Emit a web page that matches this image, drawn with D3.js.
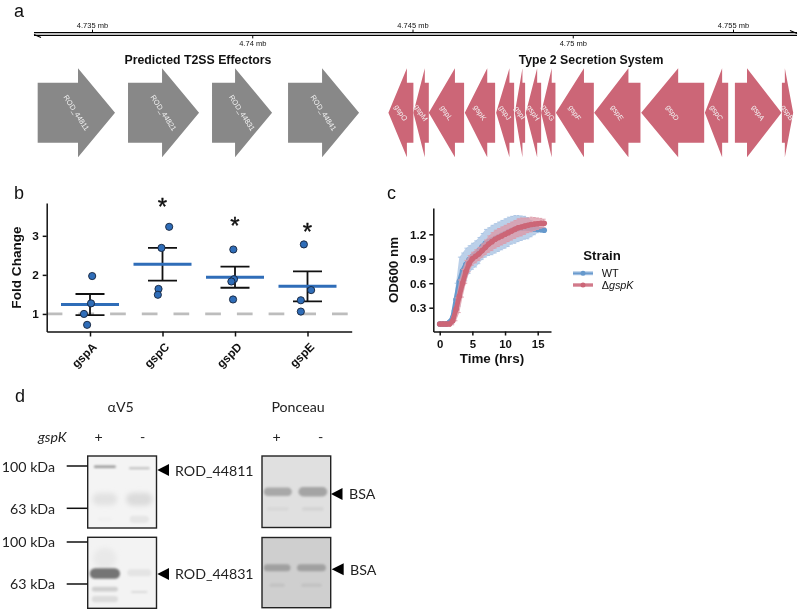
<!DOCTYPE html>
<html><head><meta charset="utf-8">
<script src="https://cdn.jsdelivr.net/npm/d3@7/dist/d3.min.js"></script>
<style>
html,body{margin:0;padding:0;background:#fff}
svg{display:block;filter:blur(0.35px)}
text{font-family:"Liberation Sans",Arial,sans-serif;fill:#111}
.lato text,text.lato{font-family:Lato,"Open Sans",sans-serif;fill:#222}
</style></head><body><svg id="c" width="800" height="611"></svg>
<script>
// ---- panel a data (kb)
const effectorNames=["ROD_44811","ROD_44821","ROD_44831","ROD_44841"];
const effectorStart=[4733.305,4736.124,4738.745,4741.117];
const effectorEnd=[4735.718,4738.340,4740.618,4743.333];
const t2ssNames=["gspO","gspM","gspL","gspK","gspJ","gspI","gspH","gspG","gspF","gspE","gspD","gspC","gspA","gspB"];
const t2ssStart=[4745.028,4745.509,4746.610,4747.578,4748.171,4748.514,4749.014,4749.460,4750.658,4752.113,4754.101,4754.850,4755.059,4756.526];
const t2ssEnd=[4744.248,4745.028,4745.509,4746.632,4747.609,4748.193,4748.536,4749.014,4749.473,4750.668,4752.135,4754.122,4756.513,4756.878];
const topTicks=[4.735,4.745,4.755];
const bottomTicks=[4.74,4.75];
// ---- panel b data
const foldCats=["gspA","gspC","gspD","gspE"];
const foldMeans=[1.24,2.27,1.94,1.71];
const foldUpper=[1.51,2.69,2.21,2.09];
const foldLower=[0.97,1.85,1.67,1.32];
const foldPoints=[[1.97,1.27,1.0,0.72],[3.23,2.69,1.64,1.49],[2.65,1.89,1.83,1.37],[2.78,1.61,1.35,1.06]];
const foldJitter=[[.03,.014,-.083,-.04],[.092,-.014,-.055,-.064],[-.023,-.014,-.05,-.027],[-.05,.05,-.092,-.092]];
const foldStars=[null,3.87,3.38,3.25];
// ---- panel c data
const hours=[0,.5,1,1.5,2,2.5,3,3.5,4,4.5,5,5.5,6,6.5,7,7.5,8,8.5,9,9.5,10,10.5,11,11.5,12,12.5,13,13.5,14,14.5,15,15.5,16];
const wtMean=[.10,.10,.10,.12,.18,.40,.62,.75,.83,.89,.93,.96,1.00,1.05,1.09,1.11,1.13,1.15,1.17,1.19,1.21,1.23,1.25,1.26,1.27,1.275,1.28,1.275,1.27,1.265,1.26,1.255,1.25];
const wtSd=[.01,.01,.015,.03,.08,.2,.3,.22,.2,.17,.16,.16,.16,.16,.17,.17,.18,.18,.18,.18,.18,.18,.17,.17,.16,.15,.14,.13,.1,.07,.04,.02,.01];
const koMean=[.10,.10,.10,.10,.14,.28,.44,.60,.74,.84,.90,.93,.96,1.00,1.04,1.08,1.11,1.14,1.16,1.18,1.20,1.22,1.24,1.26,1.28,1.29,1.30,1.31,1.32,1.325,1.33,1.335,1.335];
const koSd=[.005,.005,.01,.02,.05,.14,.2,.17,.14,.1,.08,.08,.08,.08,.09,.1,.11,.11,.11,.11,.11,.11,.11,.11,.11,.11,.1,.09,.09,.08,.07,.06,.05];
// ---- panel d data: lane, vertical fraction, width fraction, height fraction, grey
const blotA=[[0,.15,.32,.035,"#999999"],[1,.17,.3,.025,"#bcbcbc"],[0,.6,.36,.17,"#e2e2e2"],[1,.6,.38,.18,"#dbdbdb"],[1,.88,.28,.1,"#e6e6e6"],[0,.88,.2,.05,"#f0f0f0"]];
const blotB=[[0,.3,.34,.3,"#e9e9e9"],[0,.51,.44,.15,"#747474"],[0,.73,.38,.07,"#cfcfcf"],[0,.87,.38,.09,"#dcdcdc"],[1,.5,.35,.1,"#e4e4e4"],[1,.77,.24,.03,"#dadada"]];
const ponA=[[0,.5,.41,.12,"#a8a8a8"],[1,.5,.42,.13,"#a4a4a4"],[0,.74,.32,.05,"#d8d8d8"],[1,.74,.32,.05,"#d4d4d4"]];
const ponB=[[0,.43,.39,.1,"#a0a0a0"],[1,.43,.42,.1,"#a0a0a0"],[0,.68,.22,.05,"#c2c2c2"],[1,.68,.3,.05,"#c2c2c2"]];

const svg=d3.select("#c");
const defs=svg.append("defs");
[["bl",1],["bl2",2.4]].forEach(f=>defs.append("filter").attr("id",f[0]).attr("x","-40%").attr("y","-100%").attr("width","180%").attr("height","300%")
  .append("feGaussianBlur").attr("stdDeviation",f[1]));
const T=(x,y,s,o={})=>svg.append("text").attr("x",x).attr("y",y).text(s)
  .attr("font-size",o.size||11).attr("font-weight",o.bold?"bold":null).attr("font-style",o.italic?"italic":null)
  .attr("text-anchor",o.anchor||"start").attr("class",o.cls||null);

// panel letters
[["a",14,17],["b",14,199],["c",387,199],["d",15,402]].forEach(d=>T(d[1],d[2],d[0],{size:18}));

// ---------- panel a
const gx=d3.scaleLinear().domain([4.735,4.755]).range([92,733]);
const axisY=34;
svg.append("line").attr("x1",34).attr("x2",797).attr("y1",axisY-1.4).attr("y2",axisY-1.4).attr("stroke","#000").attr("stroke-width",1.1);
svg.append("line").attr("x1",34).attr("x2",797).attr("y1",axisY+1.4).attr("y2",axisY+1.4).attr("stroke","#000").attr("stroke-width",1.1);
svg.append("path").attr("d","M34,34.6L41,37.6 M797,33.4L790,30.4").attr("stroke","#000").attr("stroke-width",1.1).attr("fill","none");
const ga=svg.append("g").attr("transform",`translate(0,${axisY-1.4})`).call(d3.axisTop(gx).tickValues(topTicks).tickSize(3).tickSizeOuter(0).tickPadding(2).tickFormat(d=>d+" mb"));
const gb=svg.append("g").attr("transform",`translate(0,${axisY+1.4})`).call(d3.axisBottom(gx).tickValues(bottomTicks).tickSize(3).tickSizeOuter(0).tickPadding(2).tickFormat(d=>d+" mb"));
[ga,gb].forEach(g=>{g.select(".domain").remove();g.selectAll("text").attr("font-size",7.5).attr("font-family","Liberation Sans").attr("fill","#111");g.selectAll("line").attr("stroke","#000")});
T(198,64,"Predicted T2SS Effectors",{size:12.3,bold:true,anchor:"middle"});
T(591,64,"Type 2 Secretion System",{size:12.3,bold:true,anchor:"middle"});
const geneMid=112.7;
function arrow(s,e){const a=gx(s/1000),b=gx(e/1000),dir=b>a?1:-1,len=Math.abs(b-a),h=Math.min(len*.74,37),n=b-dir*h;
  return `M${a},${geneMid-30}L${n},${geneMid-30}L${n},${geneMid-44.5}L${b},${geneMid}L${n},${geneMid+44.5}L${n},${geneMid+30}L${a},${geneMid+30}Z`;}
function genes(names,st,en,col){
  const g=svg.append("g");
  g.selectAll("path").data(names).join("path").attr("d",(d,i)=>arrow(st[i],en[i])).attr("fill",col);
  g.selectAll("text").data(names).join("text").text(d=>d)
    .attr("transform",(d,i)=>`translate(${gx((st[i]+en[i])/2000)},${geneMid}) rotate(57)`)
    .attr("text-anchor","middle").attr("dy","0.35em").attr("font-size",7.4).style("fill","#f2f2f2");
}
genes(effectorNames,effectorStart,effectorEnd,"#888888");
genes(t2ssNames,t2ssStart,t2ssEnd,"#CC6677");

// ---------- panel b
const bx=d3.scalePoint().domain(foldCats).range([90,307.5]);
const by=d3.scaleLinear().domain([0.55,3.84]).range([331.5,203]);
const step=bx.step();
function styleAxis(g){g.selectAll("path,line").attr("stroke","#111").attr("stroke-width",1.5);
  g.selectAll("text").attr("font-family","Liberation Sans").attr("font-weight","bold").attr("font-size",11.8).attr("fill","#111");}
svg.append("line").attr("x1",46.7).attr("x2",348).attr("y1",by(1)).attr("y2",by(1)).attr("stroke","#bdbdbd").attr("stroke-width",2.8).attr("stroke-dasharray","15.7 16");
const bxAxis=d3.scaleLinear().domain([0,1]).range([46.7,351.7]);
svg.append("g").attr("transform","translate(0,331.5)").call(d3.axisBottom(bxAxis).tickValues([]).tickSizeOuter(0)).call(styleAxis);
svg.append("g").attr("transform","translate(0,331.5)").call(d3.axisBottom(bx).tickSize(5).tickSizeOuter(0)).call(styleAxis)
  .call(g=>{g.select(".domain").remove();g.selectAll("text").attr("text-anchor","end").attr("transform","translate(-1,8) rotate(-45)").attr("dx",0).attr("dy",".55em").attr("y",5)});
svg.append("g").attr("transform","translate(46.7,0)").call(d3.axisLeft(by).tickValues([1,2,3]).tickSize(4).tickPadding(4).tickSizeOuter(0).tickFormat(d3.format("d"))).call(styleAxis);
T(0,0,"Fold Change",{size:13.6,bold:true,anchor:"middle"}).attr("transform","translate(20.5,267.5) rotate(-90)");
const pg=svg.append("g");
foldCats.forEach((c,i)=>{
  const x=bx(c);
  pg.append("path").attr("d",`M${x},${by(foldUpper[i])}V${by(foldLower[i])}M${x-14.5},${by(foldUpper[i])}h29M${x-14.5},${by(foldLower[i])}h29`).attr("stroke","#111").attr("stroke-width",1.8).attr("fill","none");
  pg.append("line").attr("x1",x-29).attr("x2",x+29).attr("y1",by(foldMeans[i])).attr("y2",by(foldMeans[i])).attr("stroke","#2f6db8").attr("stroke-width",3);
  pg.selectAll(null).data(foldPoints[i]).join("circle").attr("cx",(d,j)=>x+foldJitter[i][j]*step).attr("cy",d=>by(d)).attr("r",3.6)
    .attr("fill","#2f6db8").attr("stroke","#15233a").attr("stroke-width",.9);
  if(foldStars[i]) T(x,by(foldStars[i])+13.5,"*",{size:24,anchor:"middle"}).attr("stroke","#111").attr("stroke-width",.4);
});

// ---------- panel c
const cx=d3.scaleLinear().domain([0,15]).range([439.7,537.7]);
const cy=d3.scaleLinear().domain([.3,1.2]).range([307.7,234.3]);
const c0=433.3,cBottom=331.5;
svg.append("g").attr("transform",`translate(0,${cBottom})`).call(d3.axisBottom(d3.scaleLinear().domain([0,1]).range([c0,551])).tickValues([]).tickSizeOuter(0)).call(styleAxis);
svg.append("g").attr("transform",`translate(0,${cBottom})`).call(d3.axisBottom(cx).tickValues([0,5,10,15]).tickSize(4).tickPadding(4).tickSizeOuter(0)).call(styleAxis).call(g=>g.select(".domain").remove()).call(g=>g.selectAll("text").attr("font-size",11.4));
svg.append("g").attr("transform",`translate(${c0},0)`).call(d3.axisLeft(d3.scaleLinear().domain([cy.invert(cBottom),cy.invert(208)]).range([cBottom,208])).tickValues([.3,.6,.9,1.2]).tickSize(4).tickSizeOuter(0).tickFormat(d3.format(".1f"))).call(styleAxis);
T(492,363,"Time (hrs)",{size:13.4,bold:true,anchor:"middle"});
T(0,0,"OD600 nm",{size:13.4,bold:true,anchor:"middle"}).attr("transform","translate(398,270) rotate(-90)");
function growth(mean,sd,col,band){
  const g=svg.append("g");
  g.append("path").attr("d",d3.area().x((d,i)=>cx(hours[i])).y0((d,i)=>cy(mean[i]-sd[i])).y1((d,i)=>cy(mean[i]+sd[i]))(mean)).attr("fill",band).attr("fill-opacity",.78);
  g.selectAll("path.e").data(mean).join("path").attr("class","e")
    .attr("d",(d,i)=>`M${cx(hours[i])-1.4},${cy(d+sd[i])}h2.8M${cx(hours[i])-1.4},${cy(d-sd[i])}h2.8`).attr("stroke",band).attr("stroke-width",.9).attr("fill","none");
  g.append("path").attr("d",d3.line().x((d,i)=>cx(hours[i])).y(d=>cy(d))(mean)).attr("fill","none").attr("stroke",col).attr("stroke-width",4.8);
  g.selectAll("circle").data(mean).join("circle").attr("cx",(d,i)=>cx(hours[i])).attr("cy",d=>cy(d)).attr("r",2.8).attr("fill",col);
}
growth(wtMean,wtSd,"#6699CC","#a8c3e3");
growth(koMean,koSd,"#CC6677","#dd9aa8");
T(602,260,"Strain",{size:13.2,bold:true,anchor:"middle"});
[["#6699CC","#9dbce0",273.3],["#CC6677","#dd9aa8",285]].forEach(k=>{
  svg.append("line").attr("x1",573).attr("x2",593).attr("y1",k[2]).attr("y2",k[2]).attr("stroke",k[1]).attr("stroke-width",3.8);
  svg.append("line").attr("x1",573).attr("x2",593).attr("y1",k[2]).attr("y2",k[2]).attr("stroke",k[0]).attr("stroke-width",1.2);
  svg.append("circle").attr("cx",583).attr("cy",k[2]).attr("r",2.5).attr("fill",k[0]);
});
T(601.7,277,"WT",{size:10.9});
const ko=T(601.7,288.8,"Δ",{size:10.8});ko.append("tspan").attr("font-style","italic").text("gspK");

// ---------- panel d
function blot(x0,x1,y0,y1,bg,bands,centers){
  const fx=d3.scaleLinear().domain([0,1]).range([x0,x1]);
  const fy=d3.scaleLinear().domain([0,1]).range([y0,y1]);
  const lane=d3.scaleOrdinal().domain([0,1]).range(centers);
  const g=svg.append("g");
  g.append("rect").attr("x",x0).attr("y",y0).attr("width",x1-x0).attr("height",y1-y0).attr("fill",bg);
  g.selectAll("rect.b").data(bands).join("rect").attr("class","b")
    .attr("x",d=>fx(lane(d[0]))-(x1-x0)*d[2]/2).attr("y",d=>fy(d[1])-(y1-y0)*d[3]/2)
    .attr("width",d=>(x1-x0)*d[2]).attr("height",d=>(y1-y0)*d[3]).attr("rx",d=>(y1-y0)*d[3]/2)
    .attr("fill",d=>d[4]).attr("filter",d=>d[3]>.16?"url(#bl2)":"url(#bl)");
  g.append("rect").attr("x",x0).attr("y",y0).attr("width",x1-x0).attr("height",y1-y0).attr("fill","none").attr("stroke","#222").attr("stroke-width",1.4);
}
blot(87.7,156.5,456,528,"#f4f4f4",blotA,[.25,.75]);
blot(87.7,156.5,537.3,608.3,"#f3f3f3",blotB,[.25,.75]);
blot(262,330.7,456,527.5,"#e0e0e0",ponA,[.23,.74]);
blot(262,330.7,537.5,607.7,"#cfcfcf",ponB,[.22,.72]);
const L={size:14.2,cls:"lato"};
T(120.7,412,"αV5",{...L,anchor:"middle"});
T(298,412,"Ponceau",{...L,anchor:"middle"});
T(38,441.5,"gspK",{...L,italic:true});
[[98.7,"+"],[142.7,"-"],[276.7,"+"],[320.7,"-"]].forEach(d=>T(d[0],441.5,d[1],{...L,anchor:"middle"}));
[[471.5,"100 kDa",466],[513.5,"63 kDa",508.3],[547,"100 kDa",542],[589,"63 kDa",584]].forEach(d=>{
  T(55,d[0],d[1],{...L,anchor:"end"});
  svg.append("line").attr("x1",66.7).attr("x2",87.7).attr("y1",d[2]).attr("y2",d[2]).attr("stroke","#111").attr("stroke-width",1.5);
});
[[157.3,169,470,175,475.7,"ROD_44811"],[157.3,169,574,175,579.3,"ROD_44831"],[331,342.5,494,349,499,"BSA"],[331.7,343.7,569.3,350,574.7,"BSA"]].forEach(d=>{
  svg.append("path").attr("d",`M${d[0]},${d[2]}L${d[1]},${d[2]-6}V${d[2]+6}Z`).attr("fill","#000");
  T(d[3],d[4],d[5],L);
});
</script></body></html>
